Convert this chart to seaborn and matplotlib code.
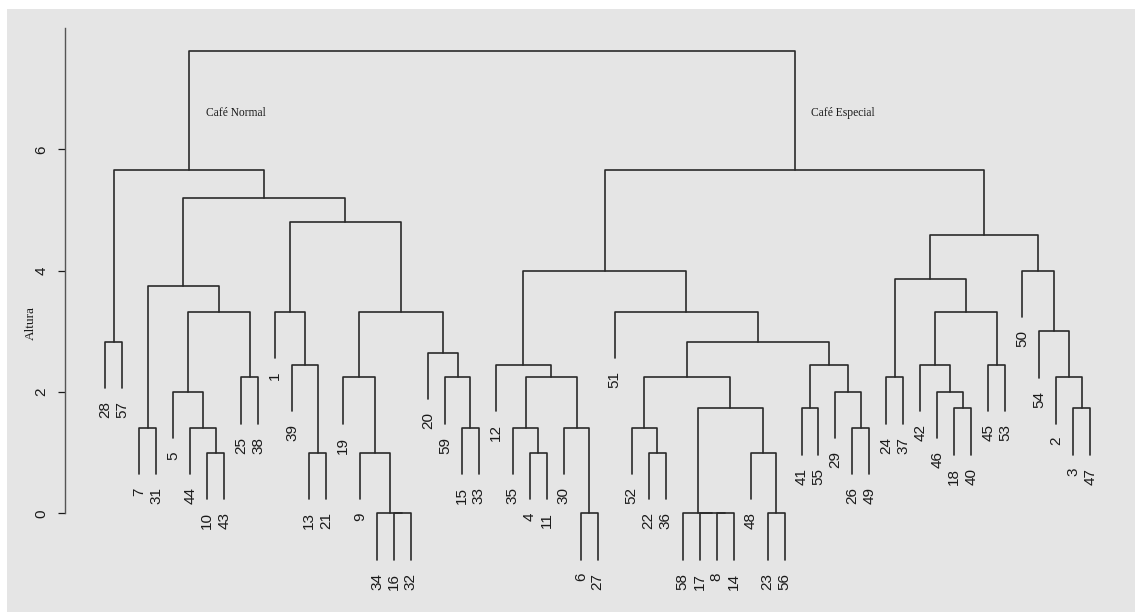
import matplotlib
matplotlib.use("Agg")
import matplotlib.pyplot as plt
import numpy as np
import pandas as pd
import seaborn as sns
from matplotlib.patches import Rectangle

# Hierarchical clustering merge table (hclust convention):
# negative entry = observation number, positive entry = row of an earlier merge (1-based)
merge_left = [
    -16, -34, -10, -13, -9, -7, -44, -15, -5, -25, -19, -59, -39, -20, -28, 9,
    -1, 11, 6, 17, 19, 15,
    -6, -8, -17, -58, -23, -4, -22, -48, -35, -30, -52, -26, 26, -41, -18, -3,
    -29, -46, 31, 33, -24, -2, -12, 36, -42, -45, 42, -54, -51, 47, 43, 45,
    -50, 53, 54, 22,
]
merge_right = [
    -32, 1, -43, -21, 2, -31, 3, -33, 7, -38, 5, 8, 4, 12, -57, 10,
    13, 14, 16, 18, 20, 21,
    -27, -14, 24, 25, -56, -11, -36, 27, 28, 23, 29, -49, 30, -55, -40, -47,
    34, 37, 32, 35, -37, 38, 41, 39, 40, -53, 46, 44, 49, 48, 52, 51,
    50, 55, 56, 57,
]
merge_height = [
    0.0, 0.0, 1.0, 1.0, 1.0, 1.41, 1.41, 1.41, 2.0, 2.24, 2.24, 2.24, 2.45, 2.65, 2.83, 3.32,
    3.32, 3.32, 3.74, 4.80, 5.20, 5.66,
    0.0, 0.0, 0.0, 0.0, 0.0, 1.0, 1.0, 1.0, 1.41, 1.41, 1.41, 1.41, 1.73, 1.73, 1.73, 1.73,
    2.0, 2.0, 2.24, 2.24, 2.24, 2.24, 2.45, 2.45, 2.45, 2.45, 2.83, 3.0, 3.32, 3.32,
    3.87, 4.0, 4.0, 4.58, 5.66, 7.62,
]
group_names = ["Café Normal", "Café Especial"]
y_ticks = [0, 2, 4, 6]

LINE = "#2a2a2a"
BG = "#e5e5e5"

sns.set_theme(style="white")
plt.rcParams["font.family"] = ["Liberation Sans", "DejaVu Sans"]

n_merge = len(merge_height)
root = n_merge


def leaf_order(node):
    if node < 0:
        return [-node]
    return leaf_order(merge_left[node - 1]) + leaf_order(merge_right[node - 1])


order = leaf_order(root)
leaf_x = {obs: i + 1 for i, obs in enumerate(order)}
hang = 0.1 * (max(merge_height) - min(merge_height))

node_x = {}


def xpos(node):
    if node < 0:
        return leaf_x[-node]
    if node not in node_x:
        node_x[node] = (xpos(merge_left[node - 1]) + xpos(merge_right[node - 1])) / 2
    return node_x[node]


rows = []
leaf_bottom = {}
for k in range(1, n_merge + 1):
    h = merge_height[k - 1]
    a, b = merge_left[k - 1], merge_right[k - 1]
    ends = []
    for c in (a, b):
        if c < 0:
            yb = h - hang
            leaf_bottom[-c] = yb
        else:
            yb = merge_height[c - 1]
        ends.append((xpos(c), yb))
    pts = [ends[0], (ends[0][0], h), (ends[1][0], h), ends[1]]
    for j, (px, py) in enumerate(pts):
        rows.append({"seg": k, "step": j, "x": px, "y": py})
seg_df = pd.DataFrame(rows)

W, H = 1135, 612
fig = plt.figure(figsize=(W / 100, H / 100), dpi=100)
fig.patch.set_facecolor("white")
fig.add_artist(Rectangle((7 / W, 0), 1 - 7 / W, 1 - 9 / H, transform=fig.transFigure,
                         facecolor=BG, edgecolor="none", zorder=0))

ax = fig.add_axes([65 / W, 0, (1125 - 65) / W, 1])
ax.set_facecolor("none")

sns.lineplot(data=seg_df, x="x", y="y", units="seg", estimator=None, sort=False,
             color=LINE, linewidth=1.2, legend=False, ax=ax)

for obs in order:
    ax.annotate(str(obs), xy=(leaf_x[obs], leaf_bottom[obs]), xytext=(0, -9.5),
                textcoords="offset points", rotation=90, ha="center", va="top",
                fontsize=11, color="#1a1a1a")

# group captions beside the two top-level branches
top_children = [merge_left[root - 1], merge_right[root - 1]]
for name, child in zip(group_names, top_children):
    ax.annotate(name, xy=(xpos(child), 6.60), xytext=(12, 0), textcoords="offset points",
                ha="left", va="center", fontsize=8.3, family="Liberation Serif",
                color="#1a1a1a")

ax.set_xlim(-1.373, 61.05)
ax.set_ylim(-(H - 513.3) / 60.67, 513.3 / 60.67)
ax.set_xticks([])
ax.set_yticks(y_ticks)
ax.set_yticklabels([str(t) for t in y_ticks], rotation=90, va="center")
ax.tick_params(axis="y", length=5, width=0.9, pad=7, labelsize=11,
               colors="#1a1a1a", left=True)
for s in ("top", "right", "bottom"):
    ax.spines[s].set_visible(False)
ax.spines["left"].set_bounds(0, 8)
ax.spines["left"].set_color("#555555")
ax.spines["left"].set_linewidth(1.0)
ax.set_xlabel("")
ax.set_ylabel("")

fig.text(31 / W, 1 - 323 / H, "Altura", rotation=90, ha="center", va="center",
         fontsize=9.5, family="Liberation Serif", color="#1a1a1a")

fig.savefig("out.png", dpi=100, facecolor=fig.get_facecolor())
